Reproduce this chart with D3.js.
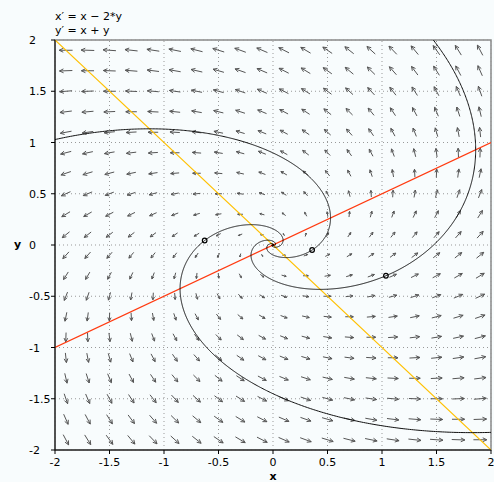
<!DOCTYPE html>
<html>
<head>
<meta charset="utf-8">
<script src="https://cdn.jsdelivr.net/npm/d3@7"></script>
<style>
  body { margin: 0; background: #f8fcfd; }
  text { font-family: 'DejaVu Sans', sans-serif; font-size: 11px; fill: #000; }
</style>
</head>
<body>
<div id="chart"></div>
<script>
// system: x' = a*x + b*y, y' = c*x + d*y
const coefX = [1, -2]
const coefY = [1, 1]
const equations = ["x\u2032 = x \u2212 2*y", "y\u2032 = x + y"]

// initial points of the drawn solution curves
const startX = [-0.627, 0.359, 1.036]
const startY = [0.044, -0.049, -0.3]

// direction field sample positions
const fieldPos = [-1.9, -1.7, -1.5, -1.3, -1.1, -0.9, -0.7, -0.5, -0.3, -0.1,
  0.1, 0.3, 0.5, 0.7, 0.9, 1.1, 1.3, 1.5, 1.7, 1.9]

const ticks = [-2, -1.5, -1, -0.5, 0, 0.5, 1, 1.5, 2]

const width = 494
const height = 482
const margin = { top: 40, left: 55, right: 3, bottom: 32 }

const svg = d3
  .select('#chart')
  .append('svg')
  .attr('width', width)
  .attr('height', height)

const x = d3.scaleLinear().domain([-2, 2]).range([margin.left, width - margin.right])
const y = d3.scaleLinear().domain([-2, 2]).range([height - margin.bottom, margin.top])

const f = (px, py) => [coefX[0] * px + coefX[1] * py, coefY[0] * px + coefY[1] * py]

svg.append('clipPath').attr('id', 'clip')
  .append('rect')
  .attr('x', x(-2)).attr('y', y(2))
  .attr('width', x(2) - x(-2)).attr('height', y(-2) - y(2))

// frame
svg.append('rect')
  .attr('x', x(-2)).attr('y', y(2))
  .attr('width', x(2) - x(-2)).attr('height', y(-2) - y(2))
  .attr('fill', 'none')
  .attr('stroke', '#888')
  .attr('stroke-width', 1.5)

// grid
const grid = svg.append('g').attr('stroke', '#999').attr('stroke-dasharray', '1,3')
grid.selectAll('.gx').data(ticks).enter().append('line')
  .attr('x1', d => x(d)).attr('x2', d => x(d))
  .attr('y1', y(-2)).attr('y2', y(2))
grid.selectAll('.gy').data(ticks).enter().append('line')
  .attr('y1', d => y(d)).attr('y2', d => y(d))
  .attr('x1', x(-2)).attr('x2', x(2))

// direction field
const cells = []
fieldPos.forEach(a => fieldPos.forEach(b => cells.push([a, b])))

const field = svg.append('g')
  .attr('stroke', '#555')
  .attr('stroke-width', 1)
  .attr('fill', 'none')

field.selectAll('path')
  .data(cells)
  .enter()
  .append('path')
  .attr('d', function(d) {
    const v = f(d[0], d[1])
    const dx = x(v[0]) - x(0)
    const dy = y(v[1]) - y(0)
    const m = Math.sqrt(v[0] * v[0] + v[1] * v[1])
    const len = 5.6 * Math.sqrt(m)
    const n = Math.sqrt(dx * dx + dy * dy) || 1
    const ux = dx / n
    const uy = dy / n
    const cx = x(d[0])
    const cy = y(d[1])
    const x0 = cx - ux * len / 2
    const y0 = cy - uy * len / 2
    const x1 = cx + ux * len / 2
    const y1 = cy + uy * len / 2
    const h = Math.min(4.5, len * 0.45)
    const ang = Math.atan2(uy, ux)
    const a1 = ang + Math.PI - 0.45
    const a2 = ang + Math.PI + 0.45
    return 'M' + x0 + ',' + y0 + 'L' + x1 + ',' + y1 +
      'M' + (x1 + h * Math.cos(a1)) + ',' + (y1 + h * Math.sin(a1)) +
      'L' + x1 + ',' + y1 +
      'L' + (x1 + h * Math.cos(a2)) + ',' + (y1 + h * Math.sin(a2))
  })

// nullclines
const plot = svg.append('g').attr('clip-path', 'url(#clip)')

// x' = 0  ->  y = -coefX[0]/coefX[1] * x
plot.append('line')
  .attr('x1', x(-2)).attr('y1', y(-coefX[0] / coefX[1] * -2))
  .attr('x2', x(2)).attr('y2', y(-coefX[0] / coefX[1] * 2))
  .attr('stroke', '#ff3a10')
  .attr('stroke-width', 1.2)

// y' = 0  ->  y = -coefY[0]/coefY[1] * x
plot.append('line')
  .attr('x1', x(-2)).attr('y1', y(-coefY[0] / coefY[1] * -2))
  .attr('x2', x(2)).attr('y2', y(-coefY[0] / coefY[1] * 2))
  .attr('stroke', '#ffc000')
  .attr('stroke-width', 1.2)

// solution curves by RK4
function solve(p, dt) {
  const pts = [p]
  let [a, b] = p
  for (let i = 0; i < 4000; i++) {
    const k1 = f(a, b)
    const k2 = f(a + dt / 2 * k1[0], b + dt / 2 * k1[1])
    const k3 = f(a + dt / 2 * k2[0], b + dt / 2 * k2[1])
    const k4 = f(a + dt * k3[0], b + dt * k3[1])
    a += dt / 6 * (k1[0] + 2 * k2[0] + 2 * k3[0] + k4[0])
    b += dt / 6 * (k1[1] + 2 * k2[1] + 2 * k3[1] + k4[1])
    pts.push([a, b])
    if (Math.abs(a) > 2.2 || Math.abs(b) > 2.2) break
    if (a * a + b * b < 1e-6) break
  }
  return pts
}

const line = d3.line().x(d => x(d[0])).y(d => y(d[1]))

startX.forEach(function(sx, i) {
  const p = [sx, startY[i]]
  const back = solve(p, -0.004).reverse()
  const fwd = solve(p, 0.004)
  plot.append('path')
    .datum(back.concat(fwd.slice(1)))
    .attr('d', line)
    .attr('fill', 'none')
    .attr('stroke', '#111')
    .attr('stroke-width', 1)
})

svg.selectAll('.start')
  .data(startX)
  .enter()
  .append('circle')
  .attr('cx', d => x(d))
  .attr('cy', (d, i) => y(startY[i]))
  .attr('r', 2.3)
  .attr('fill', 'none')
  .attr('stroke', '#000')
  .attr('stroke-width', 1.2)

// axes
const fmt = d => (d < 0 ? '-' : '') + Math.abs(d)

svg.append('line')
  .attr('x1', x(-2)).attr('x2', x(-2)).attr('y1', y(-2)).attr('y2', y(2))
  .attr('stroke', '#000')
svg.append('line')
  .attr('x1', x(-2)).attr('x2', x(2)).attr('y1', y(-2)).attr('y2', y(-2))
  .attr('stroke', '#000')

svg.selectAll('.tx').data(ticks).enter().append('line')
  .attr('x1', d => x(d)).attr('x2', d => x(d))
  .attr('y1', y(-2)).attr('y2', y(-2) + 4)
  .attr('stroke', '#000')
svg.selectAll('.ty').data(ticks).enter().append('line')
  .attr('y1', d => y(d)).attr('y2', d => y(d))
  .attr('x1', x(-2) - 4).attr('x2', x(-2))
  .attr('stroke', '#000')

svg.selectAll('.lx').data(ticks).enter().append('text')
  .attr('x', d => x(d))
  .attr('y', y(-2) + 16)
  .attr('text-anchor', 'middle')
  .text(fmt)
svg.selectAll('.ly').data(ticks).enter().append('text')
  .attr('x', 29)
  .attr('y', d => y(d) + 4)
  .text(fmt)

svg.append('text')
  .attr('x', x(0)).attr('y', 480)
  .attr('text-anchor', 'middle')
  .attr('font-weight', 'bold')
  .text('x')
svg.append('text')
  .attr('x', 14).attr('y', y(0) + 3)
  .attr('font-weight', 'bold')
  .text('y')

svg.selectAll('.eq').data(equations).enter().append('text')
  .attr('x', 55)
  .attr('y', (d, i) => 20 + i * 14)
  .text(d => d)
</script>
